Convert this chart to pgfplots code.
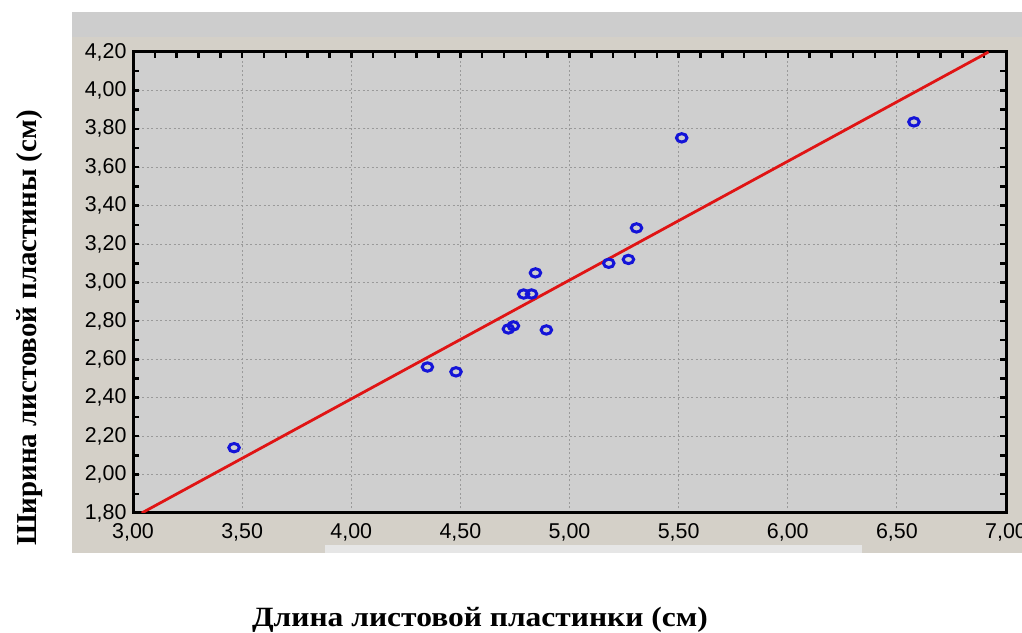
\documentclass[border=0pt]{standalone}
\usepackage{fontspec}
\setmainfont{Liberation Sans}
\newfontfamily\labfont{Liberation Serif}
\usepackage{pgfplots}
\pgfplotsset{compat=1.18}
\definecolor{beige}{HTML}{D4D0C8}
\definecolor{plotbg}{HTML}{CFCFCF}
\definecolor{topstrip}{HTML}{CDCDCD}
\definecolor{ptblue}{HTML}{1414D8}
\definecolor{fitred}{HTML}{E01414}
\definecolor{gridgray}{HTML}{9A9A9A}
\begin{document}
\begin{tikzpicture}[x=1bp,y=1bp]
\useasboundingbox (0,0) rectangle (1022,633);
\fill[topstrip] (72,596) rectangle (1022,621);
\fill[beige] (72,80) rectangle (1022,596);
\fill[topstrip!50!white] (325,80) rectangle (862,88);
\begin{axis}[
  at={(133bp,120bp)}, anchor=south west,
  scale only axis, width=873bp, height=461bp,
  xmin=3, xmax=7, ymin=1.8, ymax=4.2,
  xtick={3,3.5,4,4.5,5,5.5,6,6.5,7},
  ytick={1.8,2.0,2.2,2.4,2.6,2.8,3.0,3.2,3.4,3.6,3.8,4.0,4.2},
  minor x tick num=4, minor y tick num=1,
  xtick pos=upper, xticklabel pos=lower,
  tick align=inside, major tick length=6bp, minor tick length=6bp,
  every tick/.style={black, line width=2.5bp},
  axis line style={line width=3bp},
  axis background/.style={fill=plotbg},
  xmajorgrids, ymajorgrids,
  major grid style={gridgray, dash pattern=on 2bp off 2.5bp, line width=1.1bp},
  tick label style={font=\fontsize{21.5}{24}\selectfont},
  xticklabel style={yshift=-7bp},
  yticklabel style={xshift=-3bp},
  /pgf/number format/.cd, fixed, fixed zerofill, precision=2, use comma, assume math mode=true,
]
\addplot[fitred, line width=2.8bp] coordinates {(3.04,1.80) (6.92,4.20)};
\addplot[only marks, mark=o, mark size=4.2bp,
  mark options={ptblue, line width=3bp, xscale=1.25}] coordinates {
  (3.463,2.140) (4.349,2.560) (4.480,2.535) (4.720,2.758) (4.743,2.774)
  (4.894,2.753) (4.790,2.940) (4.826,2.940) (4.844,3.050) (5.180,3.100)
  (5.270,3.120) (5.307,3.284) (5.514,3.753) (6.578,3.836)
};
\end{axis}
\node[font=\labfont\bfseries\fontsize{28}{32}\selectfont] at (480,13) {\scalebox{1.13}[1]{Длина листовой пластинки (см)}};
\node[rotate=90, font=\labfont\bfseries\fontsize{29}{33}\selectfont] at (30,305) {Ширина листовой пластины (см)};
\end{tikzpicture}
\end{document}
